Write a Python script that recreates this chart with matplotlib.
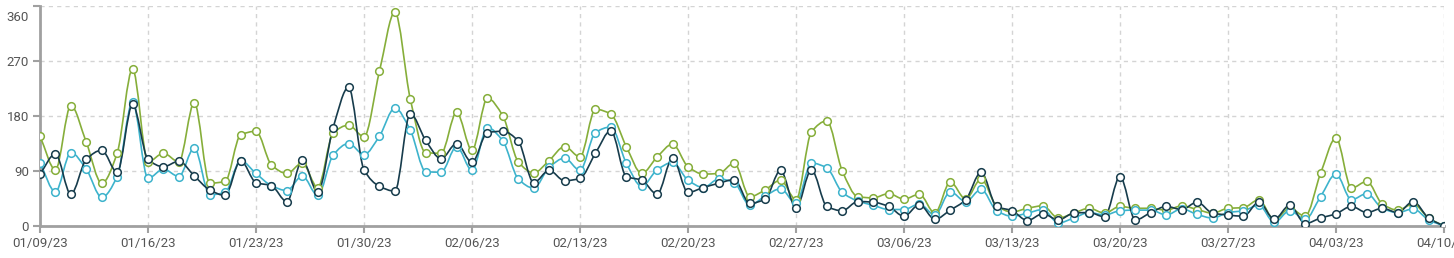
import numpy as np
import pandas as pd
import matplotlib
matplotlib.use("Agg")
import matplotlib.pyplot as plt
import matplotlib.dates as mdates
from matplotlib.path import Path
from matplotlib.patches import PathPatch

plt.rcParams['font.family'] = ['Roboto', 'DejaVu Sans']

dates = pd.date_range('2023-01-09', '2023-04-10', freq='D')

green = [147, 92, 197, 137, 70, 119, 257, 105, 119, 105, 202, 70, 73, 149,
         155, 100, 86, 103, 63, 152, 165, 146, 253, 350, 208, 120, 119, 186,
         124, 209, 180, 105, 87, 107, 130, 113, 191, 183, 130, 86, 113, 134,
         97, 85, 86, 103, 48, 59, 75, 43, 154, 172, 90, 48, 46, 53, 44, 52,
         21, 72, 44, 77, 33, 23, 29, 33, 13, 21, 29, 21, 32, 29, 29, 26, 33,
         27, 21, 29, 30, 43, 10, 29, 16, 86, 144, 62, 73, 36, 26, 36, 13, 0]
cyan = [103, 56, 120, 93, 47, 81, 203, 78, 93, 81, 128, 51, 55, 107,
        86, 66, 58, 82, 50, 116, 135, 117, 147, 193, 157, 89, 88, 130,
        91, 161, 139, 77, 62, 96, 111, 91, 153, 162, 103, 65, 92, 104,
        75, 63, 77, 71, 34, 49, 61, 37, 103, 95, 55, 41, 34, 27, 27, 36,
        18, 56, 40, 60, 25, 16, 21, 27, 5, 13, 22, 18, 25, 26, 26, 18, 28,
        19, 13, 22, 25, 34, 6, 25, 11, 48, 85, 43, 53, 29, 22, 28, 10, 0]
navy = [85, 118, 52, 109, 124, 88, 199, 109, 97, 106, 82, 59, 50, 107,
        71, 66, 40, 108, 55, 161, 227, 92, 65, 57, 184, 140, 110, 135,
        104, 153, 155, 139, 71, 91, 74, 78, 119, 156, 81, 75, 52, 111,
        55, 63, 70, 76, 37, 44, 91, 29, 92, 32, 25, 40, 39, 32, 16, 35,
        11, 26, 43, 88, 32, 25, 9, 20, 10, 21, 22, 15, 81, 10, 22, 32, 27,
        39, 21, 18, 16, 39, 11, 34, 4, 13, 20, 32, 22, 29, 22, 40, 13, 0]

yticks = [0, 90, 180, 270, 360]

colors = {'green': '#86ae3a', 'cyan': '#3db3cc', 'navy': '#173c4c'}


def smooth_path(x, y):
    # monotone cubic tangents, drawn as bezier segments
    x = np.asarray(x, float)
    y = np.asarray(y, float)
    dx = np.diff(x)
    d = np.diff(y) / dx
    m = np.zeros_like(y)
    m[0], m[-1] = d[0], d[-1]
    for i in range(1, len(y) - 1):
        if d[i - 1] * d[i] <= 0:
            m[i] = 0
        else:
            m[i] = 2 / (1 / d[i - 1] + 1 / d[i])
    verts = [(x[0], y[0])]
    codes = [Path.MOVETO]
    for i in range(len(x) - 1):
        h = dx[i] / 3
        verts += [(x[i] + h, y[i] + m[i] * h),
                  (x[i + 1] - h, y[i + 1] - m[i + 1] * h),
                  (x[i + 1], y[i + 1])]
        codes += [Path.CURVE4] * 3
    return Path(verts, codes)


fig = plt.figure(figsize=(14.54, 2.58), dpi=100)
ax = fig.add_axes([40 / 1454, 32 / 258, 1404 / 1454, 220 / 258])

xs = mdates.date2num(dates)
for vals, c in [(green, colors['green']), (cyan, colors['cyan']), (navy, colors['navy'])]:
    ax.add_patch(PathPatch(smooth_path(xs, vals), facecolor='none',
                           edgecolor=c, lw=1.2, zorder=3))
    ax.plot(dates, vals, ls='none', marker='o', ms=5.5, mfc='white',
            mec=c, mew=1.1, zorder=4)

ax.set_xlim(dates[0], dates[-1])
ax.set_ylim(0, 360)
ax.set_yticks(yticks)
# top label is pushed down inside the figure, drawn separately
ax.set_yticklabels([str(v) for v in yticks[:-1]] + [''])
ax.annotate(str(yticks[-1]), xy=(0, yticks[-1]), xycoords=('axes fraction', 'data'),
            xytext=(-8, -8), textcoords='offset points', ha='right', va='center',
            fontsize=9.5, color='#555555')
ticks = pd.date_range('2023-01-09', '2023-04-10', freq='7D')
ax.set_xticks(ticks)
ax.set_xticklabels([t.strftime('%m/%d/%y') for t in ticks])

ax.grid(True, color='#d4d4d4', ls=(0, (3, 3)), lw=1)
ax.set_axisbelow(True)
for s in ['top', 'right']:
    ax.spines[s].set_visible(False)
for s in ['left', 'bottom']:
    ax.spines[s].set_color('#a0a0a0')
    ax.spines[s].set_linewidth(2)
ax.tick_params(colors='#a0a0a0', labelcolor='#555555', labelsize=9.5,
               length=5, width=1.5, pad=3)

fig.savefig('out.png', dpi=100)
